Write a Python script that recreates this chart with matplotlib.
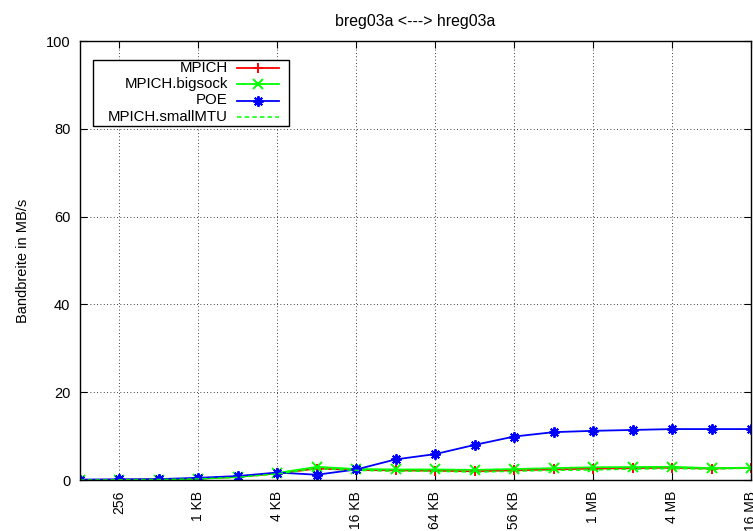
import matplotlib.pyplot as plt
import numpy as np
from matplotlib.lines import Line2D
from matplotlib.patches import Rectangle

plt.rcParams['font.family'] = ['Liberation Sans', 'DejaVu Sans']

# Nachrichtengroessen in Byte (128 B .. 16 MB)
groessen = [2**k for k in range(7, 25)]

mpich = [0.0, 0.05, 0.1, 0.3, 0.7, 1.5, 2.6, 2.3, 2.2, 2.1, 2.0, 2.2, 2.4, 2.6, 2.7, 2.8, 2.6, 2.8]
mpich_bigsock = [0.0, 0.05, 0.1, 0.3, 0.7, 1.6, 3.0, 2.5, 2.4, 2.4, 2.3, 2.5, 2.7, 2.9, 2.95, 3.0, 2.7, 2.8]
poe = [0.1, 0.15, 0.2, 0.5, 0.9, 1.7, 1.2, 2.4, 4.7, 5.9, 8.0, 9.9, 10.9, 11.2, 11.4, 11.6, 11.6, 11.6]
mpich_smallmtu = [0.0, 0.05, 0.1, 0.25, 0.6, 1.4, 2.6, 2.2, 2.0, 2.0, 1.8, 2.0, 2.2, 2.3, 2.5, 2.6, 2.5, 2.7]

tick_pos = [256, 1024, 4096, 16384, 65536, 262144, 1048576, 4194304, 16777216]
tick_lab = ["256", "1 KB", "4 KB", "16 KB", "64 KB", "256 KB", "1 MB", "4 MB", "16 MB"]

fig = plt.figure(figsize=(7.53, 5.31), dpi=100)
ax = fig.add_axes([80/753, 1 - 480/531, 671/753, 439/531])

ax.plot(groessen, mpich, color='#ff0000', marker='+', ms=7.5, mew=1.4, lw=1.3)
ax.plot(groessen, mpich_bigsock, color='#00ff00', marker='x', ms=6.5, mew=1.4, lw=1.3)
ax.plot(groessen, poe, color='#0000ff', marker=(8, 2, 0), ms=7.5, mew=1.4, lw=1.3)
ax.plot(groessen, mpich_smallmtu, color='#00ff00', ls=(0, (3, 2)), lw=1.1)

ax.set_xscale('log', base=2)
ax.set_xlim(128, 16777216)
ax.set_ylim(0, 100)
ax.set_xticks(tick_pos)
ax.set_xticklabels(tick_lab, rotation=90, fontsize=10)
ax.xaxis.set_minor_locator(plt.NullLocator())
ax.set_yticks([0, 20, 40, 60, 80, 100])
ax.tick_params(axis='y', labelsize=10.5, pad=7)
ax.tick_params(axis='x', pad=8)
ax.tick_params(direction='in', top=True, right=True, length=5, width=0.8)
ax.grid(True, color='black', ls=(0, (1, 3)), lw=0.6)
for s in ax.spines.values():
    s.set_linewidth(1.0)

ax.set_ylabel("Bandbreite in MB/s", fontsize=10.5, labelpad=11)
ax.set_title("breg03a <---> hreg03a", fontsize=11.4, pad=11)

# Legende wie bei gnuplot (Text rechtsbuendig, Linie rechts)
ax.add_patch(Rectangle(((93 - 80) / 671, (480 - 126) / 439), 196 / 671, 66 / 439,
                       transform=ax.transAxes, fill=True, facecolor='white',
                       edgecolor='black', lw=1.0, zorder=5))
namen = ["MPICH", "MPICH.bigsock", "POE", "MPICH.smallMTU"]
stile = [dict(color='#ff0000', marker='+', ms=7.5, mew=1.4, lw=1.3),
         dict(color='#00ff00', marker='x', ms=6.5, mew=1.4, lw=1.3),
         dict(color='#0000ff', marker=(8, 2, 0), ms=7.5, mew=1.4, lw=1.3),
         dict(color='#00ff00', ls=(0, (3, 2)), lw=1.1)]
for i, (name, st) in enumerate(zip(namen, stile)):
    yy = (480 - (67.7 + 16.4 * i)) / 439
    ax.text((227.7 - 80) / 671, yy, name, transform=ax.transAxes, ha='right', va='center',
            fontsize=10.8, zorder=6)
    x0, x1 = (237 - 80) / 671, (279 - 80) / 671
    ax.add_line(Line2D([x0, x1], [yy, yy], transform=ax.transAxes, zorder=6,
                       **{k: v for k, v in st.items() if k not in ('marker', 'ms', 'mew')}))
    if 'marker' in st:
        ax.add_line(Line2D([(x0 + x1) / 2], [yy], transform=ax.transAxes, zorder=6, ls='none',
                           color=st['color'], marker=st['marker'], ms=st['ms'], mew=st['mew']))

fig.savefig("out.png", dpi=100)
